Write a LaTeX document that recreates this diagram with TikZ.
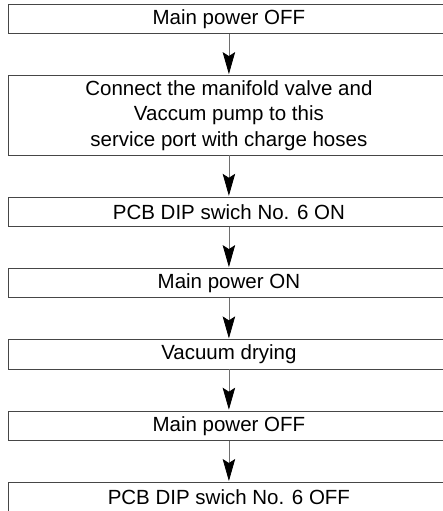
\documentclass[tikz,border=0pt]{standalone}
\usepackage{fontspec}
\setmainfont{Liberation Sans}
\usetikzlibrary{positioning,arrows.meta}
\definecolor{BoxLine}{RGB}{70,70,70}
\definecolor{ShaftGray}{RGB}{110,110,110}

\begin{document}
\begin{tikzpicture}[
x=1pt,y=1pt,
node distance=42pt,
stepbox/.style={rectangle,draw=BoxLine,line width=0.9pt,outer sep=0pt,minimum width=441.4pt,minimum height=29.3pt,inner sep=0pt,align=center,font=\fontsize{20.5}{25.5}\selectfont},
arrow/.style={-{Stealth[length=22pt,width=12.5pt,inset=4pt,color=black]},line width=0.8pt,draw=ShaftGray,shorten >=1.5pt}
]
\clip (0,0) rectangle (443,-511);
\useasboundingbox (0,0) rectangle (443,-511);
\node[stepbox,anchor=north west] (off1) at (8.2,-4.3) {Main power OFF};
\node[stepbox,minimum height=79.7pt,below=of off1] (hose) {Connect the manifold valve and\\Vaccum pump to this\\service port with charge hoses};
\node[stepbox,below=of hose] (dipon) {PCB DIP swich No. 6 ON};
\node[stepbox,below=of dipon] (on) {Main power ON};
\node[stepbox,below=of on] (dry) {Vacuum drying};
\node[stepbox,below=of dry] (off2) {Main power OFF};
\node[stepbox,below=of off2] (dipoff) {PCB DIP swich No. 6 OFF};
\foreach \a/\b in {off1/hose,hose/dipon,dipon/on,on/dry,dry/off2,off2/dipoff}
  \draw[arrow] (\a.south) -- (\b.north);
\end{tikzpicture}
\end{document}
